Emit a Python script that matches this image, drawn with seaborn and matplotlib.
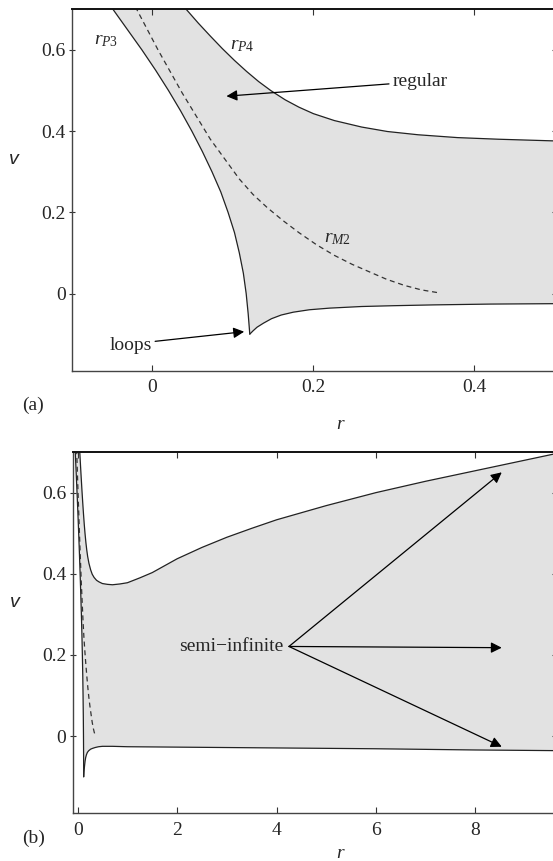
import numpy as np
import pandas as pd
import matplotlib
matplotlib.use("Agg")
import matplotlib.pyplot as plt
import seaborn as sns

sns.set_style("ticks")
plt.rcParams["font.family"] = ["Liberation Serif", "DejaVu Serif"]
plt.rcParams["mathtext.fontset"] = "custom"
plt.rcParams["mathtext.rm"] = "Liberation Serif"
plt.rcParams["mathtext.it"] = "Liberation Serif:italic"

# ---- data ----
rp3_r = [-0.067, -0.049, -0.031, -0.013, 0.004, 0.020, 0.035, 0.049, 0.062, 0.074,
         0.085, 0.094, 0.102, 0.108, 0.113, 0.1165, 0.119, 0.121]
rp3_v = [0.750, 0.700, 0.650, 0.600, 0.550, 0.500, 0.450, 0.400, 0.350, 0.300,
         0.250, 0.200, 0.150, 0.100, 0.050, 0.000, -0.050, -0.100]

bottom_r = [0.121, 0.125, 0.130, 0.138, 0.148, 0.160, 0.175, 0.195, 0.220, 0.260,
            0.300, 0.350, 0.420, 0.500, 0.700, 1.0, 2.0, 4.0, 6.0, 8.0, 10.0]
bottom_v = [-0.100, -0.092, -0.083, -0.073, -0.062, -0.053, -0.046, -0.040, -0.036, -0.032,
            -0.030, -0.028, -0.026, -0.025, -0.025, -0.026, -0.027, -0.029, -0.031, -0.034, -0.036]

rp4_r = [0.021, 0.042, 0.057, 0.072, 0.087, 0.102, 0.117, 0.132, 0.147, 0.165,
         0.182, 0.200, 0.226, 0.260, 0.292, 0.330, 0.379, 0.430, 0.497, 0.600,
         0.700, 0.850, 1.0, 1.25, 1.5, 2.0, 2.5, 3.0, 3.5, 4.0,
         5.0, 6.0, 7.0, 8.0, 9.0, 10.0]
rp4_v = [0.750, 0.700, 0.666, 0.634, 0.603, 0.574, 0.547, 0.522, 0.500, 0.477,
         0.459, 0.443, 0.426, 0.410, 0.399, 0.391, 0.384, 0.380, 0.376, 0.374,
         0.373, 0.375, 0.378, 0.390, 0.403, 0.437, 0.465, 0.490, 0.512, 0.533,
         0.568, 0.600, 0.628, 0.654, 0.680, 0.706]

rm2_r = [-0.033, -0.0195, 0.007, 0.037, 0.072, 0.108, 0.125, 0.143, 0.162, 0.182,
         0.204, 0.226, 0.248, 0.270, 0.291, 0.313, 0.334, 0.355]
rm2_v = [0.75, 0.70, 0.60, 0.494, 0.380, 0.282, 0.244, 0.211, 0.180, 0.150,
         0.120, 0.094, 0.072, 0.053, 0.035, 0.020, 0.009, 0.002]

yticks = [0, 0.2, 0.4, 0.6]
ytick_labels = ["0", "0.2", "0.4", "0.6"]
xticks_a = [0, 0.2, 0.4]
xtick_labels_a = ["0", "0.2", "0.4"]
xticks_b = [0, 2, 4, 6, 8]
xtick_labels_b = ["0", "2", "4", "6", "8"]

fill_color = "#e2e2e2"
fs = 14

fig = plt.figure(figsize=(5.53, 8.61), dpi=100)
ax_a = fig.add_axes([0.130, 0.5695, 0.8734, 0.4197])
ax_b = fig.add_axes([0.1315, 0.0554, 0.8720, 0.4196])

poly_r = rp3_r + bottom_r[1:] + rp4_r[::-1]
poly_v = rp3_v + bottom_v[1:] + rp4_v[::-1]

for ax, xl, xt, xtl, xlab_y in [(ax_a, (-0.1, 0.5), xticks_a, xtick_labels_a, -0.125),
                                (ax_b, (-0.1, 9.6), xticks_b, xtick_labels_b, -0.089)]:
    ax.fill(poly_r, poly_v, color=fill_color, lw=0, zorder=0)
    sns.lineplot(x=rp3_r, y=rp3_v, sort=False, estimator=None, color="#222222", lw=0.9, ax=ax)
    sns.lineplot(x=bottom_r, y=bottom_v, sort=False, estimator=None, color="#222222", lw=0.9, ax=ax)
    sns.lineplot(x=rp4_r, y=rp4_v, sort=False, estimator=None, color="#222222", lw=0.9, ax=ax)
    sns.lineplot(x=rm2_r, y=rm2_v, sort=False, estimator=None, color="#333333", lw=0.9,
                 linestyle=(0, (4, 3)), ax=ax)
    ax.set_xlim(*xl)
    ax.set_ylim(-0.19, 0.70)
    ax.set_xticks(xt)
    ax.set_xticklabels(xtl, fontsize=fs)
    ax.set_yticks(yticks)
    ax.set_yticklabels(ytick_labels, fontsize=fs)
    ax.tick_params(axis="x", direction="in", length=4, top=True, pad=6, color="#333333")
    ax.tick_params(axis="y", direction="inout", length=5, right=True, pad=2, color="#333333")
    for s in ax.spines.values():
        s.set_color("#444444")
        s.set_linewidth(1.0)
    ax.spines["top"].set_color("#111111")
    ax.spines["top"].set_linewidth(1.4)
    ax.set_xlabel("r", fontsize=fs, style="italic")
    ax.xaxis.set_label_coords(0.555, xlab_y)
    ax.set_ylabel("v", fontsize=fs, style="italic", family="Liberation Sans", rotation=0)
    ax.yaxis.set_label_coords(-0.12, 0.56)

arrow_kw = dict(arrowstyle="-|>", color="black", lw=0.9, mutation_scale=16,
                shrinkA=0, shrinkB=0)

# panel (a) annotations
ax_a.text(-0.057, 0.624, r"$\mathit{r}_{\mathit{P3}}$", fontsize=fs, ha="center", va="center")
ax_a.text(0.112, 0.612, r"$\mathit{r}_{\mathit{P4}}$", fontsize=fs, ha="center", va="center")
ax_a.text(0.230, 0.135, r"$\mathit{r}_{\mathit{M2}}$", fontsize=fs, ha="center", va="center")
ax_a.annotate("regular", xy=(0.092, 0.486), xytext=(0.298, 0.522), fontsize=fs,
              ha="left", va="center", arrowprops=arrow_kw)
ax_a.annotate("loops", xy=(0.114, -0.094), xytext=(-0.027, -0.127), fontsize=fs,
              ha="center", va="center",
              arrowprops=dict(arrow_kw, relpos=(1.0, 0.7)))

# panel (b) annotations
src = (4.25, 0.221)
ax_b.text(4.13, 0.222, "semi\u2212infinite", fontsize=fs, ha="right", va="center")
for tgt in [(8.53, 0.650), (8.53, 0.218), (8.53, -0.026)]:
    ax_b.annotate("", xy=tgt, xytext=src, arrowprops=arrow_kw)

fig.text(0.060, 1 - 405 / 861, "(a)", fontsize=fs, ha="center", va="center")
fig.text(0.060, 1 - 838 / 861, "(b)", fontsize=fs, ha="center", va="center")

fig.savefig("out.png", dpi=100)
